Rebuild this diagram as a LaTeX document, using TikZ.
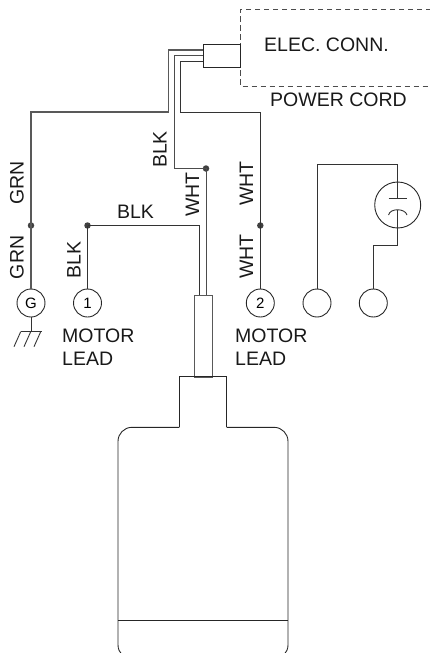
\documentclass[tikz,border=0pt]{standalone}
\usepackage{fontspec}
\setmainfont{Liberation Sans}
\usetikzlibrary{calc}
\tikzset{
  wire/.style={line width=0.9pt,draw=black!80},
  sleeve/.style={line width=1pt,draw=black!65},
  outline/.style={line width=0.9pt,draw=black!85},
  term/.style={circle,draw=black!85,line width=0.9pt,minimum size=28pt,inner sep=0pt,font=\fontsize{15}{16}\selectfont},
  joint/.style={circle,fill=black!75,draw=none,minimum size=6.5pt,inner sep=0pt},
  lbl/.style={inner sep=0pt,text=black!90,font=\fontsize{19.5}{21}\selectfont},
  vlbl/.style={lbl,rotate=90}
}
\begin{document}
\begin{tikzpicture}[x=1pt,y=-1pt]
\useasboundingbox (0,0) rectangle (430,653);
\clip (0,0) rectangle (430,653);
% power box
\draw[dash pattern=on 5.5pt off 3.5pt,line width=0.9pt,draw=black!70] (431,9) -- (240.3,9) -- (240.3,86) -- (431,86);
\node[draw=black!85,line width=0.9pt,minimum width=37.5pt,minimum height=22.5pt,inner sep=0pt,anchor=north west] (plug) at (202.5,44) {};
% terminals
\node[term] (G) at (31,303) {G};
\node[term] (T1) at (87.5,303) {1};
\node[term] (T2) at (260.3,303) {2};
\node[term] (T3) at (317,303) {};
\node[term] (T4) at (373.3,303) {};
\node[circle,draw=black!85,line width=0.9pt,minimum size=46pt,inner sep=0pt] (cap) at (397.7,205) {};
% joints
\node[joint] (jW) at (206,168.5) {};
\node[joint] (jG) at (31,225.5) {};
\node[joint] (jB) at (87.5,225.5) {};
\node[joint] (jR) at (260.3,225.5) {};
% sleeve
\node[sleeve,draw,minimum width=18.5pt,minimum height=82pt,inner sep=0pt,anchor=north west] (sl) at (193.7,295) {};
% wires
\draw[wire,draw=black!65,line width=1.1pt] (202.5,50) -- (168.5,50) -- (168.5,112) -- (31,112) -- (jG.center) -- (G.north);
\draw[wire,draw=black!70] (202.5,55.5) -- (174.5,55.5) -- (174.5,168.5) -- (jW.center) -- (206,295);
\draw[wire] (202.5,61) -- (180,61) -- (180,112) -- (260.3,112) -- (jR.center) -- (T2.north);
\draw[wire] (jB.center) -- (T1.north);
\draw[wire] (jB.center) -- (199.5,225.5) -- (199.5,295);
% capacitor
\draw[wire] (T3.north) -- (317,164.5) -- (397.7,164.5) -- (397.7,198.7);
\draw[wire] (388.5,198.7) -- (407,198.7);
\draw[wire] (388.5,215) .. controls (390,208) and (405,208) .. (407,215);
\coordinate (arcTop) at (397.7,209.5);
\draw[wire] (arcTop) -- (397.7,245) -- (373.3,245) -- (T4.north);
% ground
\coordinate (gnd) at (31,331.7);
\draw[wire] (G.south) -- (gnd);
\draw[wire] (20.7,331.7) -- (41.5,331.7);
\draw[wire] (20.7,331.7) -- (14,346.7) (30.7,331.7) -- (24,346.7) (40.7,331.7) -- (34,346.7);
% motor
\draw[outline] (179.3,427.3) -- (179.3,376.7) -- (226.7,376.7) -- (226.7,427.3);
\draw[outline,rounded corners=14pt] (226.7,427.3) -- (288,427.3) -- (288,659) -- (118,659) -- (118,427.3) -- (179.3,427.3);
\draw[outline] (118,620) -- (288,620);
% labels
\node[lbl,anchor=west] (elec) at (264,44.7) {ELEC. CONN.};
\node[lbl,anchor=west] (pc) at (270,100) {POWER CORD};
\node[vlbl] (a) at (17,183) {GRN};
\node[vlbl] (b) at (17,257.5) {GRN};
\node[vlbl] (c) at (74,260) {BLK};
\node[vlbl] (d) at (160,149.5) {BLK};
\node[vlbl] (e) at (192.5,194.5) {WHT};
\node[lbl] (f) at (135.5,211.5) {BLK};
\node[vlbl] (g) at (246.5,183.5) {WHT};
\node[vlbl] (h) at (246.5,256.5) {WHT};
\node[lbl,anchor=west] (m1) at (62,336) {MOTOR};
\node[lbl,anchor=west] (l1) at (62,358.5) {LEAD};
\node[lbl,anchor=west] (m2) at (235,336) {MOTOR};
\node[lbl,anchor=west] (l2) at (235,358.5) {LEAD};
\end{tikzpicture}
\end{document}
